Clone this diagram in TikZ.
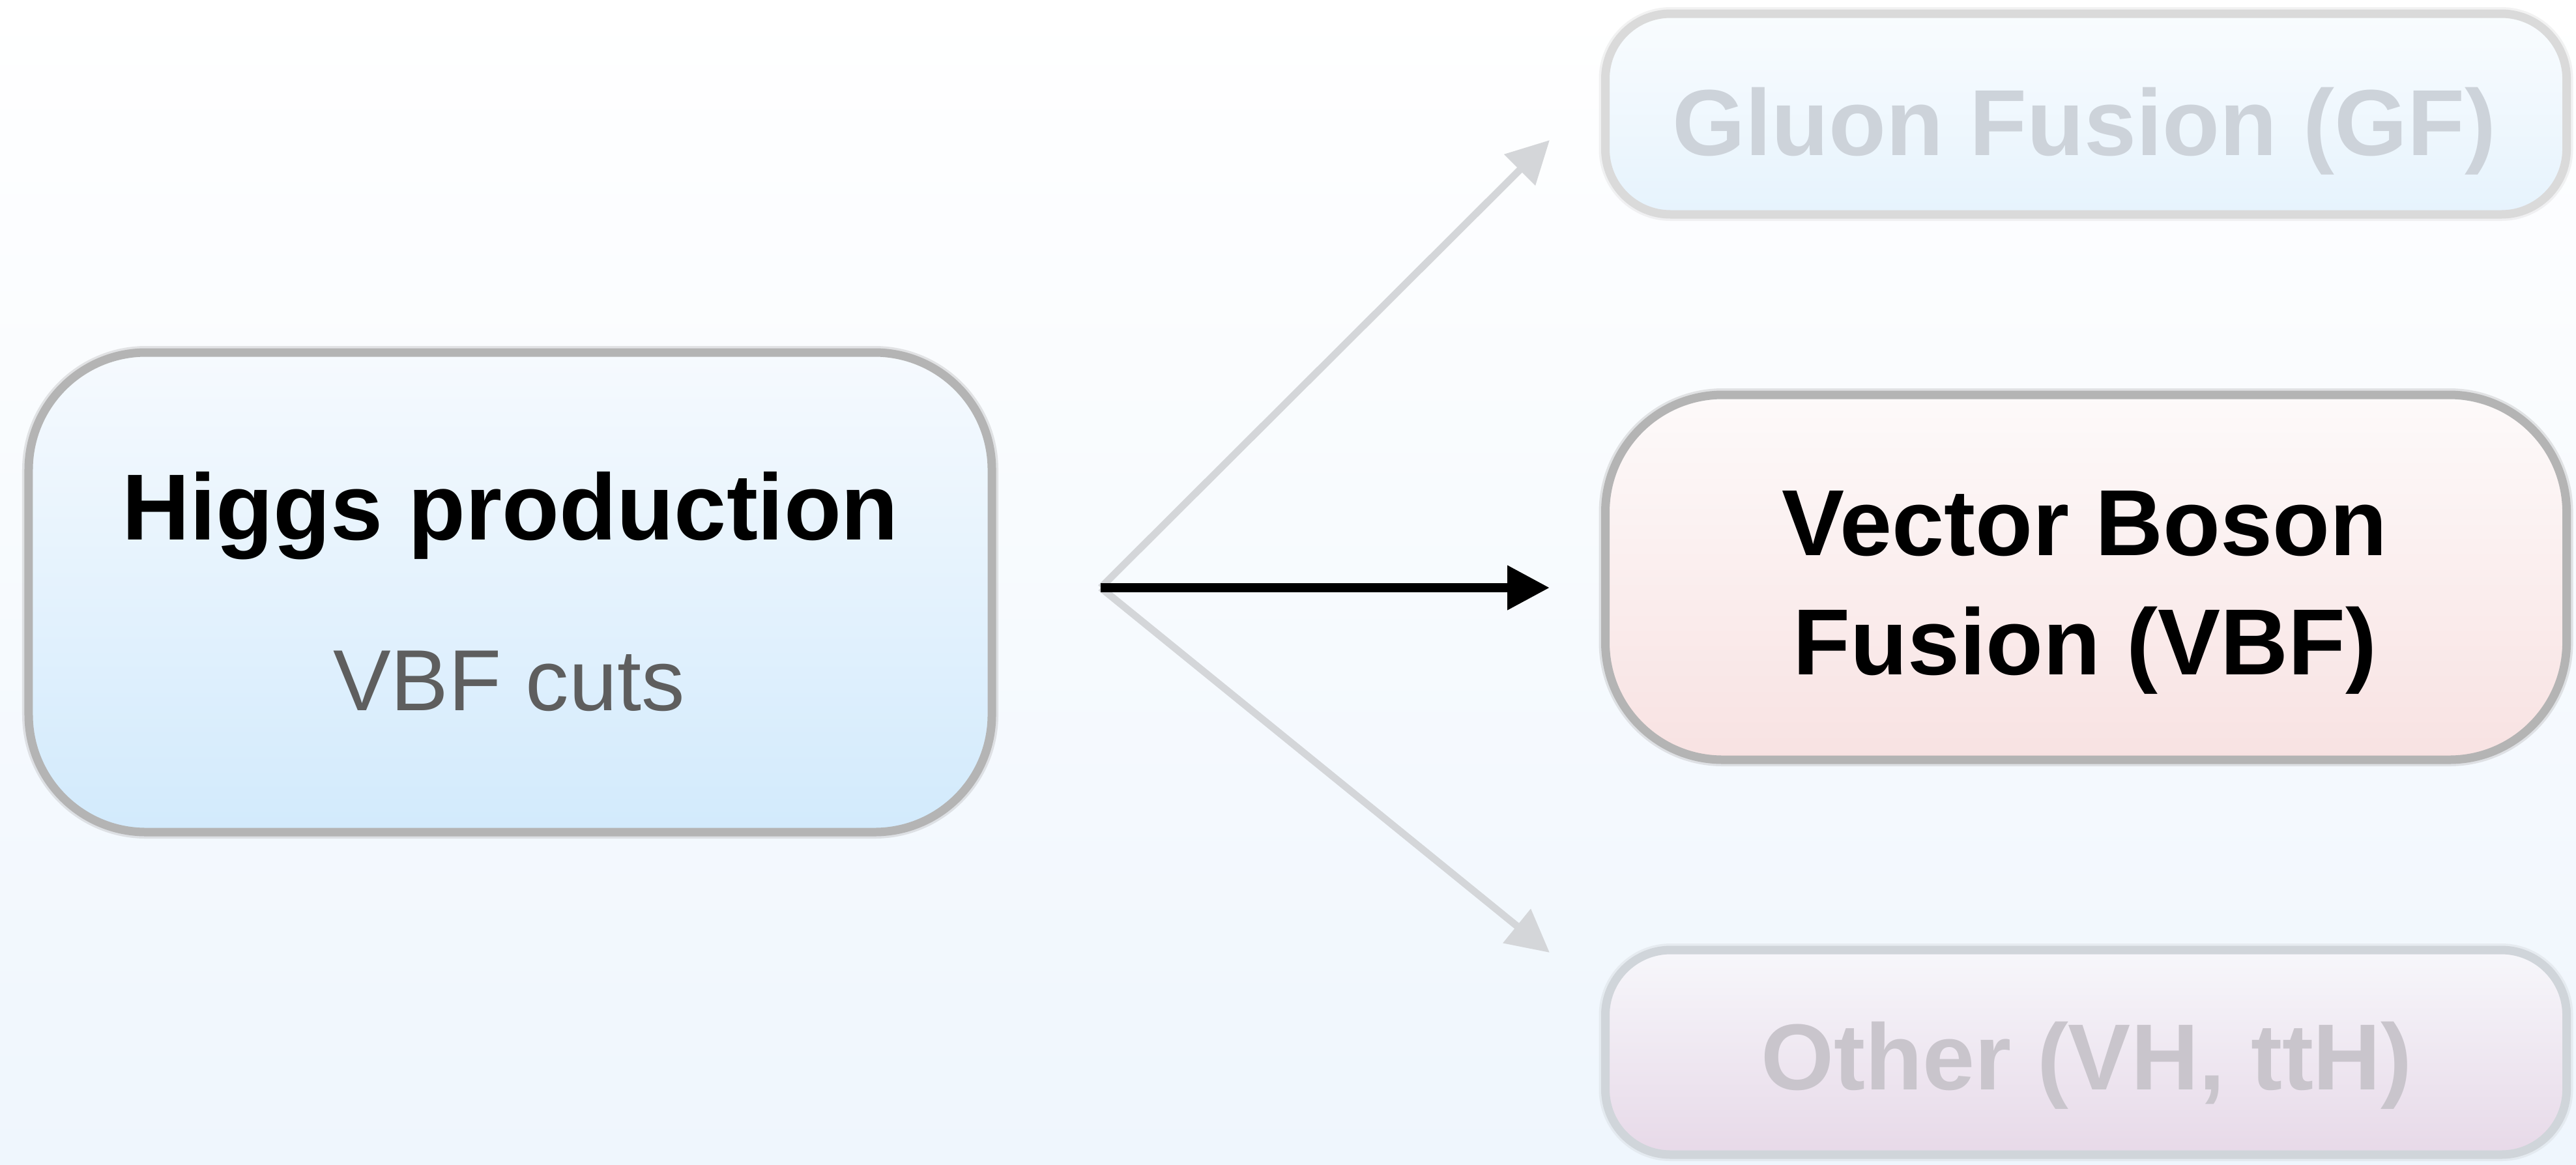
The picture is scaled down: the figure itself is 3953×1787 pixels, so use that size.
\documentclass[tikz,border=0pt]{standalone}
\usepackage{fontspec}
\setmainfont{Liberation Sans}
\usetikzlibrary{arrows.meta}
\definecolor{bgbot}{HTML}{EFF6FD}
\definecolor{hTop}{HTML}{F6FAFE}
\definecolor{hBot}{HTML}{D2EAFC}
\definecolor{vTop}{HTML}{FDFAFA}
\definecolor{vBot}{HTML}{F8E2E2}
\definecolor{gTop}{HTML}{F9FCFE}
\definecolor{gBot}{HTML}{E6F3FD}
\definecolor{oTop}{HTML}{F7F7FB}
\definecolor{oBot}{HTML}{E7D9E8}
\definecolor{darkbord}{HTML}{B4B4B4}
\definecolor{gfbord}{HTML}{DADADA}
\definecolor{othbord}{HTML}{D0D5DA}
\definecolor{cutgray}{HTML}{5E5E5E}
\definecolor{gftext}{HTML}{CDD3DA}
\definecolor{othtext}{HTML}{C9C5CC}
\definecolor{arrgray}{HTML}{D4D6D9}
\begin{document}
\begin{tikzpicture}[x=0.2pt,y=-0.2pt,
  box/.style={rectangle, line width=2.6pt, inner sep=0pt,
    preaction={draw, line width=4pt, draw opacity=0.35}},
  boldtxt/.style={font=\fontsize{28.8pt}{34pt}\selectfont\bfseries, anchor=base, inner sep=0pt},
  cuttxt/.style={font=\fontsize{26.6pt}{32pt}\selectfont, text=cutgray, anchor=base, inner sep=0pt},
  arr/.style={-{Triangle[length=13pt,width=13pt]}, line width=2.2pt}]
\shade[top color=white,bottom color=bgbot] (0,0) rectangle (3953,1787);
\path[use as bounding box] (0,0) rectangle (3953,1787);

% boxes
\node[box, rounded corners=36pt, draw=darkbord, top color=hTop, bottom color=hBot,
      minimum width=295.6pt, minimum height=147.2pt] (higgs) at (783,909) {};
\node[box, rounded corners=20pt, draw=gfbord, top color=gTop, bottom color=gBot,
      minimum width=295pt, minimum height=61.6pt] (gf) at (3201,175) {};
\node[box, rounded corners=36pt, draw=darkbord, top color=vTop, bottom color=vBot,
      minimum width=295pt, minimum height=112pt] (vbf) at (3201,886) {};
\node[box, rounded corners=20pt, draw=othbord, top color=oTop, bottom color=oBot,
      minimum width=295pt, minimum height=62.8pt] (oth) at (3201,1615) {};

% texts
\node[boldtxt] (t1) at (783,828) {Higgs production};
\node[cuttxt] (t2) at (781,1090) {VBF cuts};
\node[boldtxt, text=gftext] (t3) at (3198,238) {Gluon Fusion (GF)};
\node[boldtxt] (t4) at (3199,852) {Vector Boson};
\node[boldtxt] (t5) at (3199,1035) {Fusion (VBF)};
\node[boldtxt, text=othtext] (t6) at (3202,1672) {Other (VH, ttH)};

% connectors
\coordinate (fork) at (1689,902);
\coordinate (eGF) at (2378,215);
\coordinate (eVBF) at (2378,902);
\coordinate (eOth) at (2378,1462);
\draw[arr, draw=arrgray] (fork) -- (eGF);
\draw[arr, draw=arrgray] (fork) -- (eOth);
\draw[arr, draw=black, line width=2.8pt] (fork) -- (eVBF);
\end{tikzpicture}
\end{document}
